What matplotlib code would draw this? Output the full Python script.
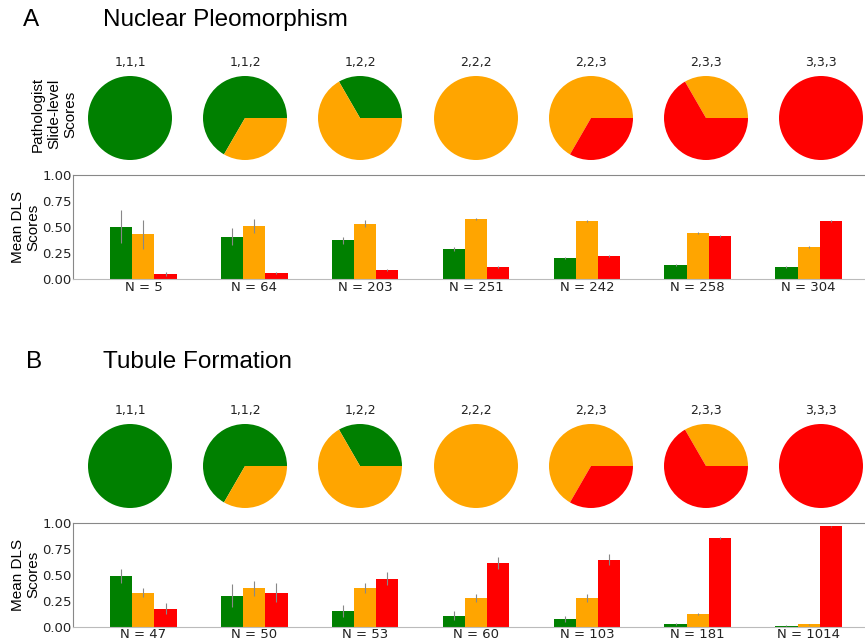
import matplotlib
matplotlib.use("Agg")
import matplotlib.pyplot as plt
import numpy as np

W, H = 865, 642

combos = ["1,1,1", "1,1,2", "1,2,2", "2,2,2", "2,2,3", "2,3,3", "3,3,3"]
# count of pathologist votes per grade for each combination
pie_g1 = [3, 2, 1, 0, 0, 0, 0]
pie_g2 = [0, 1, 2, 3, 2, 1, 0]
pie_g3 = [0, 0, 0, 0, 1, 2, 3]

# A - nuclear pleomorphism
np_n = [5, 64, 203, 251, 242, 258, 304]
np_g1 = [0.505, 0.41, 0.374, 0.29, 0.204, 0.134, 0.12]
np_g2 = [0.43, 0.51, 0.534, 0.58, 0.56, 0.44, 0.313]
np_g3 = [0.048, 0.064, 0.086, 0.12, 0.224, 0.415, 0.56]
np_e1 = [0.16, 0.08, 0.035, 0.02, 0.01, 0.01, 0.01]
np_e2 = [0.14, 0.064, 0.03, 0.01, 0.01, 0.01, 0.01]
np_e3 = [0.02, 0.01, 0.01, 0.01, 0.01, 0.01, 0.01]

# B - tubule formation
tf_n = [47, 50, 53, 60, 103, 181, 1014]
tf_g1 = [0.49, 0.298, 0.154, 0.109, 0.074, 0.026, 0.01]
tf_g2 = [0.33, 0.37, 0.375, 0.279, 0.279, 0.125, 0.026]
tf_g3 = [0.176, 0.33, 0.465, 0.615, 0.647, 0.85, 0.965]
tf_e1 = [0.07, 0.11, 0.06, 0.04, 0.03, 0.01, 0.005]
tf_e2 = [0.045, 0.07, 0.05, 0.04, 0.04, 0.01, 0.005]
tf_e3 = [0.05, 0.09, 0.065, 0.055, 0.05, 0.01, 0.005]

colors = ["green", "orange", "red"]
pie_cx = [130, 245, 360, 476, 591, 706, 821]


def box(x0, y0, x1, y1):
    # pixel box (top-left origin) -> figure fraction rect
    return [x0 / W, 1 - y1 / H, (x1 - x0) / W, (y1 - y0) / H]


fig = plt.figure(figsize=(W / 100, H / 100), dpi=100)


def panel(letter, lx, title, title_y, cy, bar_top, n, g1, g2, g3, e1, e2, e3, side_label):
    fig.text(lx / W, 1 - title_y / H, letter, fontsize=17.5,
             family="Liberation Sans", va="center", ha="left")
    fig.text(103 / W, 1 - title_y / H, title, fontsize=17.5,
             family="Liberation Sans", va="center", ha="left")

    r = 42
    for i, cx in enumerate(pie_cx):
        ax = fig.add_axes(box(cx - r, cy - r, cx + r, cy + r))
        sizes = [pie_g1[i], pie_g2[i], pie_g3[i]]
        keep = [(s, c) for s, c in zip(sizes, colors) if s > 0]
        ax.pie([s for s, _ in keep], colors=[c for _, c in keep],
               startangle=0, wedgeprops=dict(linewidth=0))
        ax.set_xlim(-1, 1)
        ax.set_ylim(-1, 1)
        ax.set_aspect("equal")
        ax.set_title(combos[i], fontsize=9, color="#222222", pad=7)

    if side_label:
        fig.text(54 / W, 1 - (cy - 4) / H, "Pathologist\nSlide-level\nScores",
                 fontsize=11, family="Liberation Sans", rotation=90,
                 ha="center", va="center", linespacing=1.2)

    ax = fig.add_axes(box(73, bar_top, 879, bar_top + 104.3))
    x = np.arange(len(n))
    w = 0.2
    ekw = dict(ecolor="#888888", elinewidth=0.8, capsize=0)
    ax.bar(x - w, g1, w, yerr=e1, color="green", error_kw=ekw)
    ax.bar(x, g2, w, yerr=e2, color="orange", error_kw=ekw)
    ax.bar(x + w, g3, w, yerr=e3, color="red", error_kw=ekw)
    ax.set_xlim(-0.635, 6.635)
    ax.set_ylim(0, 1)
    ax.set_yticks([0, 0.25, 0.5, 0.75, 1.0])
    ax.set_yticklabels(["0.00", "0.25", "0.50", "0.75", "1.00"])
    ax.set_xticks(x)
    ax.set_xticklabels([f"N = {v}" for v in n])
    ax.tick_params(length=0, pad=1, labelsize=9.5, labelcolor="#222222")
    for s in ["left", "top"]:
        ax.spines[s].set_color("#888888")
    ax.spines["bottom"].set_color("#bbbbbb")
    ax.spines["right"].set_visible(False)
    ax.set_ylabel("Mean DLS\nScores", fontsize=11, family="Liberation Sans",
                  linespacing=1.15, labelpad=1)


panel("A", 23, "Nuclear Pleomorphism", 20, 118, 175, np_n, np_g1, np_g2, np_g3,
      np_e1, np_e2, np_e3, True)
panel("B", 26, "Tubule Formation", 362, 466, 522.7, tf_n, tf_g1, tf_g2, tf_g3,
      tf_e1, tf_e2, tf_e3, False)

fig.savefig("out.png", dpi=100)
